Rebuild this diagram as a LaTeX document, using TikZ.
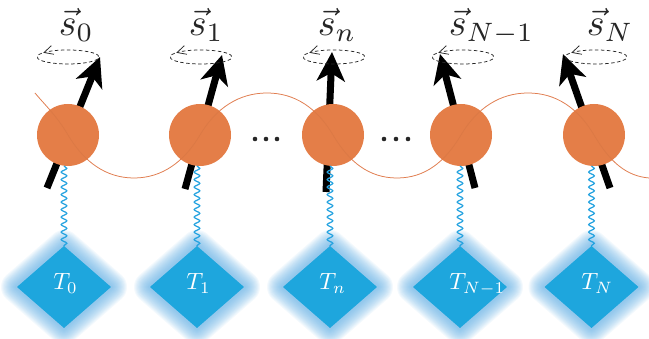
\documentclass[tikz,border=0pt]{standalone}
\usetikzlibrary{arrows.meta,shapes.geometric,decorations.pathmorphing,backgrounds}
\definecolor{spinorange}{RGB}{228,126,72}
\definecolor{waveorange}{RGB}{234,132,86}
\definecolor{bathblue}{RGB}{30,166,221}
\definecolor{springblue}{RGB}{38,163,224}
\definecolor{glowblue}{RGB}{90,170,226}
\definecolor{labelgray}{RGB}{38,38,38}
\tikzset{
  spin/.style={circle, fill=spinorange, minimum size=62pt, inner sep=0pt, outer sep=0pt},
  bath/.style={diamond, fill=bathblue, minimum width=94pt, minimum height=82pt, inner sep=0pt, outer sep=0pt},
  glowline/.style={draw=glowblue, draw opacity=0.066, line join=round},
  spinarrow/.style={line width=7pt, black, -{Stealth[length=29pt,width=28pt,inset=8pt]}},
  spring/.style={springblue, line width=1.25pt, decorate, decoration={snake, segment length=7.5pt, amplitude=2.8pt}},
  wave/.style={waveorange, line width=0.75pt},
  orbit/.style={labelgray, line width=0.75pt, dash pattern=on 3.5pt off 2.5pt, -{Straight Barb[length=9pt,width=9pt]}},
  slabel/.style={labelgray, anchor=base west, inner sep=0pt, scale=3.8, transform shape},
  tlabel/.style={white, anchor=base west, inner sep=0pt, scale=2.35, transform shape},
  dotmark/.style={circle, fill=labelgray, minimum size=4.6pt, inner sep=0pt}
}
\begin{document}
\begin{tikzpicture}[x=1pt,y=1pt]
\useasboundingbox (0,0) rectangle (649,339);
% baths
\node[bath] (t0) at (64,52) {};
\node[bath] (t1) at (197,52) {};
\node[bath] (t2) at (330,52) {};
\node[bath] (t3) at (460,52) {};
\node[bath] (t4) at (591.5,52) {};
% spins (sites)
\node[spin] (c0) at (68,204) {};
\node[spin] (c1) at (200,204) {};
\node[spin] (c2) at (333,204) {};
\node[spin] (c3) at (461,204) {};
\node[spin] (c4) at (594,204) {};
% arrow ends
\coordinate (b0) at (47,151);  \coordinate (h0) at (100,282);
\coordinate (b1) at (185,150); \coordinate (h1) at (222,284);
\coordinate (b2) at (326,147); \coordinate (h2) at (332,287);
\coordinate (b3) at (475,151); \coordinate (h3) at (440,285);
\coordinate (b4) at (610,151); \coordinate (h4) at (563,285);
\tikzset{wavepath/.style={insert path={
  (35,246) .. controls (44,235) and (57,223) .. (c0.center)
  .. controls (84,177) and (106,161) .. (134,161)
  .. controls (162,161) and (184,177) .. (c1.center)
  .. controls (216,231) and (239,246) .. (267,246)
  .. controls (295,246) and (317,231) .. (c2.center)
  .. controls (349,177) and (369,161) .. (397,161)
  .. controls (425,161) and (445,177) .. (c3.center)
  .. controls (477,231) and (500,246) .. (528,246)
  .. controls (556,246) and (578,231) .. (c4.center)
  .. controls (610,177) and (626,163) .. (649,161)}}}
\begin{scope}[on background layer]
  \foreach \n in {t0,t1,t2,t3,t4}{
    \foreach \w in {32,30,...,4}{
      \draw[glowline, line width=\w pt] (\n.north) -- (\n.east) -- (\n.south) -- (\n.west) -- cycle;
    }
  }
  \draw[wave, wavepath];
  \foreach \i in {0,...,4}{
    \draw[spinarrow] (b\i) -- (h\i);
  }
\end{scope}
% faint trace of the wave across the spheres
\draw[wave, draw opacity=0.15, spinorange!75!black, wavepath];
% springs
\foreach \i in {0,...,4}{
  \draw[spring] (t\i.north |- c\i.south) -- (t\i.north);
}
% precession ellipses
\coordinate (e0) at (68,282);
\coordinate (e1) at (201,282);
\coordinate (e2) at (334,282);
\coordinate (e3) at (463,282);
\coordinate (e4) at (596,282);
\foreach \i in {0,...,4}{
  \draw[orbit] (e\i) ++(148:31pt and 7pt) arc[start angle=148, end angle=503, x radius=31pt, y radius=7pt];
}
% spin labels
\node[slabel] (s0) at (58,303) {$\vec{s}_0$};
\node[slabel] (s1) at (188,303) {$\vec{s}_1$};
\node[slabel] (s2) at (317,303) {$\vec{s}_n$};
\node[slabel] (s3) at (448,303) {$\vec{s}_{N-1}$};
\node[slabel] (s4) at (586,303) {$\vec{s}_N$};
% bath labels
\node[tlabel] (l0) at (53,49) {$T_0$};
\node[tlabel] (l1) at (186,49) {$T_1$};
\node[tlabel] (l2) at (319,49) {$T_n$};
\node[tlabel] (l3) at (449,49) {$T_{N-1}$};
\node[tlabel] (l4) at (581,49) {$T_N$};
% dots
\node[dotmark] (d1) at (255,200) {};
\node[dotmark] (d2) at (266,200) {};
\node[dotmark] (d3) at (277,200) {};
\node[dotmark] (d4) at (384,200) {};
\node[dotmark] (d5) at (396,200) {};
\node[dotmark] (d6) at (408,200) {};
\end{tikzpicture}
\end{document}
